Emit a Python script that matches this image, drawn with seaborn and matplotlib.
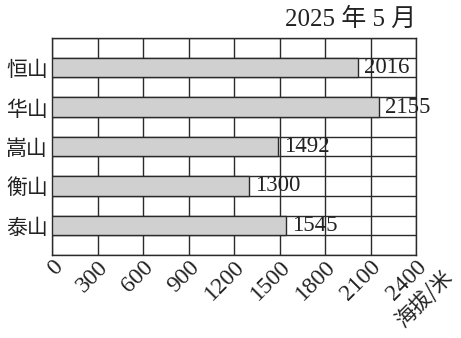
import matplotlib
matplotlib.use("Agg")
import matplotlib.pyplot as plt
import seaborn as sns
import pandas as pd
import numpy as np

mountains = ["恒山", "华山", "嵩山", "衡山", "泰山"]
heights = [2016, 2155, 1492, 1300, 1545]
xticks = [0, 300, 600, 900, 1200, 1500, 1800, 2100, 2400]
title_text = "2025 年 5 月"
xlabel_text = "海拔/米"

sns.set_theme(style="white")
plt.rcParams['font.family'] = ['Liberation Serif', 'Noto Sans CJK SC', 'DejaVu Sans']

df = pd.DataFrame({"山": mountains, "海拔": heights})

fig = plt.figure(figsize=(4.61, 3.38), dpi=100)
ax = fig.add_axes([52/461, 1-255/338, (416-52)/461, (255-38)/338])

sns.barplot(data=df, x="海拔", y="山", orient="h", width=0.5,
            color="#d0d0d0", edgecolor="#2a2a2a", linewidth=1.0,
            saturation=1, ax=ax, zorder=3)

ax.set_xlim(0, 2400)
ax.set_ylim(4.75, -0.75)
ax.set_xticks(xticks)
ax.set_xticklabels([str(t) for t in xticks], rotation=45, ha="right",
                   rotation_mode="anchor", fontsize=17,
                   family=['Liberation Serif'], color="#222222")
ax.set_yticks(np.arange(0, len(mountains)))
ax.set_yticklabels(mountains, fontsize=15, family=['Noto Sans CJK SC'],
                   color="#222222")
ax.set_yticks(np.arange(-0.75, 4.76, 0.5), minor=True)
ax.tick_params(axis="both", which="both", length=0, pad=3)
ax.tick_params(axis="x", pad=1)
ax.grid(True, which="major", axis="x", color="#2a2a2a", linewidth=1.0, zorder=0)
ax.grid(True, which="minor", axis="y", color="#2a2a2a", linewidth=1.0, zorder=0)
ax.set_xlabel("")
ax.set_ylabel("")
for s in ax.spines.values():
    s.set_color("#2a2a2a")
    s.set_linewidth(1.0)

for i, v in enumerate(heights):
    ax.text(v + 40, i, str(v), va="center", ha="left", fontsize=16.5,
            family=['Liberation Serif'], color="#222222", zorder=4)

fig.text(416/461, 1-26/338, title_text, ha="right", va="baseline",
         fontsize=18, color="#222222",
         family=['Liberation Serif', 'Noto Sans CJK SC'])
fig.text(424/461, 1-299/338, xlabel_text, ha="center", va="center",
         rotation=45, rotation_mode="anchor", fontsize=15, color="#222222",
         family=['Noto Sans CJK SC'])

fig.savefig("out.png", dpi=100)
